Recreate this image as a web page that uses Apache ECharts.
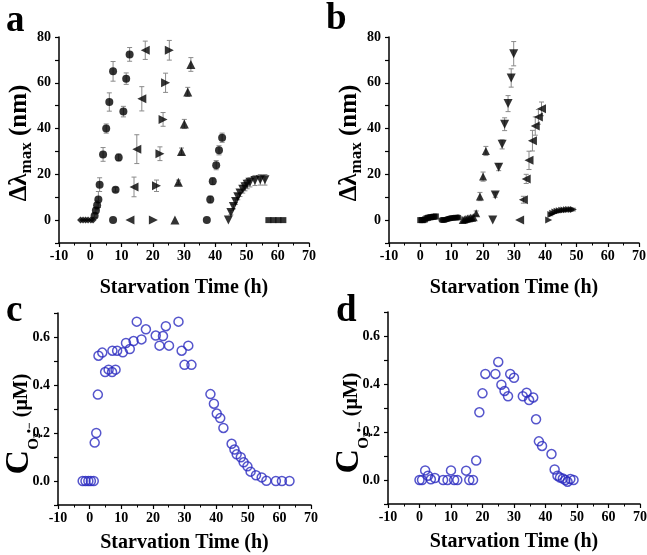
<!DOCTYPE html>
<html>
<head>
<meta charset="utf-8">
<script src="https://cdn.jsdelivr.net/npm/echarts@6/dist/echarts.min.js"></script>
<style>
html,body{margin:0;padding:0;background:#fff;}
#chart{width:647px;height:555px;}
</style>
</head>
<body>
<div id="chart"></div>
<script>
// ---------- Panel a : Δλmax (nm) vs starvation time ----------
const aDiaX = [-3.1, -2.3, -1.5, -0.7, 0.2, 0.9];
const aDiaY = [0, 0, 0, 0, 0, 0];
const aCir1X = [1.4, 1.8, 2.2, 2.6, 3.0, 4.1, 5.1, 6.1, 7.3];
const aCir1Y = [1.9, 4.2, 6.5, 9.0, 15.5, 28.7, 40, 51.6, 65];
const aCir1E = [0.8, 1.2, 2, 3.5, 3, 3, 2, 4, 4.3];
const aCir2X = [7.3, 8.1, 9.1, 10.6, 11.5, 12.6];
const aCir2Y = [0, 13.3, 27.4, 47.4, 61.8, 72.4];
const aCir2E = [0, 1, 1.5, 2.3, 2.5, 3];
const aLeftX = [12.7, 14.0, 14.9, 16.5, 17.6];
const aLeftY = [0, 14.5, 31, 53, 74.2];
const aLeftE = [0, 4.3, 6.3, 5.3, 4];
const aRightX = [20.2, 21.2, 22.3, 23.3, 24.1, 25.3];
const aRightY = [0, 15, 29, 44, 60, 74.2];
const aRightE = [0, 2.5, 3, 3, 4.2, 4.3];
const aUpX = [27.1, 28.2, 29.2, 30.1, 31.2, 32.2];
const aUpY = [0, 16.5, 30, 42, 56, 68];
const aUpE = [0, 1, 1.5, 2, 2, 3];
const aCir3X = [37.3, 38.4, 39.2, 40.3, 41.2, 42.2];
const aCir3Y = [0, 9, 17, 24, 30.5, 36];
const aCir3E = [0, 1.5, 1.5, 2, 2, 2];
const aDownX = [44.2, 45.0, 45.8, 46.5, 47.2, 47.9, 48.8, 49.5, 50.2, 51.1, 52.7, 54.4, 55.9];
const aDownY = [0, 3.3, 5.9, 8.1, 10.2, 11.8, 13.5, 14.6, 15.7, 16.5, 17.3, 17.6, 17.6];
const aDownE = [0, 1, 1, 1.2, 1.3, 1.5, 1.7, 1.8, 2, 2, 2.2, 2.3, 2.3];
const aSqX = [57.0, 58.6, 60.2, 61.8];
const aSqY = [0, 0, 0, 0];

// ---------- Panel b ----------
const bSqX = [0, 0.5, 1, 1.5, 2, 2.5, 3, 3.5, 4, 4.5, 5];
const bSqY = [0, 0, 0, 0.3, 0.8, 1, 1.2, 1.3, 1.4, 1.5, 1.6];
const bCirX = [6.8, 7.3, 7.8, 8.3, 8.8, 9.3, 9.8, 10.3, 10.8, 11.3, 11.8, 12.3];
const bCirY = [0, 0, 0.1, 0.3, 0.5, 0.7, 0.8, 0.9, 1, 1, 1.1, 1.1];
const bUpX = [13.6, 14.1, 14.6, 15.1, 15.6, 16.1, 16.6, 17.1, 17.9, 19.1, 20.1, 21.0];
const bUpY = [0, 0.3, 0.5, 0.7, 0.8, 1, 1, 1.2, 3, 10.3, 19, 30.2];
const bUpE = [0, 0, 0, 0, 0, 0, 0, 0, 1, 1.8, 2, 2];
const bDownX = [23.2, 24.0, 25.1, 26.2, 27.0, 28.1, 29.1, 29.9];
const bDownY = [0, 11, 23.1, 33.1, 41.9, 50.9, 62.1, 72.7];
const bDownE = [0, 1, 1.5, 2, 2.8, 3.5, 4, 5.3];
const bLeftX = [31.8, 33.0, 33.9, 34.8, 35.9, 36.8, 37.8, 38.8];
const bLeftY = [0, 8.9, 18, 26.1, 34.7, 41.1, 45.1, 48.6];
const bLeftE = [0, 1.5, 2, 4, 4.5, 4, 3.2, 3];
const bRightX = [41.1, 41.8, 42.4, 43.1, 43.8, 44.5, 45.3, 46.0, 46.8, 47.5, 48.3, 49.0];
const bRightY = [0, 2.4, 3.0, 3.5, 3.9, 4.1, 4.3, 4.4, 4.5, 4.6, 4.6, 4.6];
const bRightE = [0, 0.5, 0.5, 0.6, 0.6, 0.6, 0.6, 0.6, 0.6, 0.6, 0.6, 0.6];

// ---------- Panel c : C(O2•−) (µM) ----------
const cX = [-2.2, -1.3, -0.4, 0.4, 1.3, 1.6, 2.1, 2.6, 2.8, 4.0, 4.9, 6.0, 7.1, 7.2, 8.2, 8.7, 10.5, 11.5, 12.7, 13.9,
  14.9, 16.4, 17.8, 20.9, 22.1, 23.2, 24.1, 25.1, 28.1, 29.1, 30.0, 31.2, 32.2, 38.2, 39.3, 40.2, 41.3, 42.3,
  44.9, 45.8, 46.5, 47.8, 48.7, 49.9, 50.9, 52.6, 54.4, 55.9, 58.9, 60.8, 63.2];
const cY = [0, 0, 0, 0, 0, 0.16, 0.2, 0.36, 0.522, 0.535, 0.454, 0.464, 0.454, 0.543, 0.464, 0.543, 0.536, 0.575, 0.55, 0.583,
  0.664, 0.59, 0.632, 0.606, 0.564, 0.604, 0.645, 0.564, 0.664, 0.543, 0.484, 0.564, 0.484, 0.362, 0.322, 0.281, 0.262, 0.221,
  0.155, 0.131, 0.111, 0.099, 0.078, 0.061, 0.039, 0.024, 0.015, 0.001, 0, 0, 0];

// ---------- Panel d ----------
const dX = [0, 0.8, 1.8, 2.7, 3.6, 4.9, 7.5, 8.9, 10.0, 11.0, 12.0, 14.8, 15.8, 17.0, 18.0, 19.0, 20.0, 20.9,
  24.1, 25.0, 26.0, 27.0, 28.1, 28.8, 30.0, 32.8, 34.0, 34.8, 36.1, 37.0, 37.9, 38.9, 41.9, 42.9, 43.8, 44.6,
  45.5, 46.3, 47.0, 47.9, 48.9];
const dY = [0, 0, 0.04, 0.018, 0.003, 0.008, 0, 0, 0.04, 0, 0, 0.039, 0, 0, 0.081, 0.282, 0.361, 0.442,
  0.442, 0.492, 0.397, 0.371, 0.349, 0.442, 0.426, 0.349, 0.364, 0.333, 0.344, 0.253, 0.161, 0.142, 0.108, 0.044, 0.018, 0.01,
  0.006, 0, -0.007, 0.004, 0];

// ---------- tick labels / texts ----------
const xTitle = 'Starvation Time (h)';
const panelLetters = ['a', 'b', 'c', 'd'];

const FONT = '"Liberation Serif", "Times New Roman", serif';
const BLUE = '#2a2abf';

const zip2 = (xs, ys) => xs.map((x, i) => [x, ys[i]]);
const zip3 = (xs, ys, es) => xs.map((x, i) => [x, ys[i], es[i]]);

function marks(g, xs, ys, symbol, rotate, size) {
  return {
    type: 'scatter', xAxisIndex: g, yAxisIndex: g, data: zip2(xs, ys),
    symbol: symbol, symbolRotate: rotate, symbolSize: size, z: 5,
    itemStyle: { color: '#000' }, silent: true, animation: false
  };
}
function errs(g, xs, ys, es) {
  return {
    type: 'custom', xAxisIndex: g, yAxisIndex: g, data: zip3(xs, ys, es), z: 3, silent: true, animation: false,
    renderItem: function (params, api) {
      const e = api.value(2);
      if (!e) return null;
      const x = api.value(0), y = api.value(1);
      const hi = api.coord([x, y + e]), lo = api.coord([x, y - e]);
      const w = 2.5, st = { stroke: '#8a8a8a', lineWidth: 1 };
      return {
        type: 'group', children: [
          { type: 'line', shape: { x1: hi[0], y1: hi[1], x2: lo[0], y2: lo[1] }, style: st },
          { type: 'line', shape: { x1: hi[0] - w, y1: hi[1], x2: hi[0] + w, y2: hi[1] }, style: st },
          { type: 'line', shape: { x1: lo[0] - w, y1: lo[1], x2: lo[0] + w, y2: lo[1] }, style: st }
        ]
      };
    }
  };
}
function openCircles(g, xs, ys) {
  return {
    type: 'scatter', xAxisIndex: g, yAxisIndex: g, data: zip2(xs, ys), symbol: 'circle', symbolSize: 9,
    itemStyle: { color: 'rgba(255,255,255,0)', borderColor: BLUE, borderWidth: 1.5 }, silent: true, animation: false
  };
}

const grids = [
  { left: 59, top: 37, width: 250, height: 206, outerBoundsMode: 'none' },
  { left: 389, top: 37, width: 250, height: 206, outerBoundsMode: 'none' },
  { left: 58, top: 313, width: 253, height: 192, outerBoundsMode: 'none' },
  { left: 388, top: 312, width: 252, height: 192, outerBoundsMode: 'none' }
];

const axisLineStyle = { show: true, lineStyle: { color: '#000', width: 1.5 } };
const labelStyle = { color: '#000', fontFamily: FONT, fontWeight: 'bold', fontSize: 14 };

const xAxes = grids.map((g, i) => ({
  type: 'value', gridIndex: i, min: -10, max: 70, interval: 10,
  axisLine: Object.assign({ onZero: false }, axisLineStyle),
  axisTick: { show: true, inside: false, length: 4, lineStyle: { color: '#000', width: 1.2 } },
  minorTick: { show: true, splitNumber: 2, length: 2.5, lineStyle: { color: '#000', width: 1 } },
  splitLine: { show: false },
  axisLabel: Object.assign({ margin: 6 }, labelStyle),
  name: xTitle, nameLocation: 'middle', nameGap: i < 2 ? 35 : 28, nameMoveOverlap: false,
  nameTextStyle: { color: '#000', fontFamily: FONT, fontWeight: 'bold', fontSize: 20 }
}));

const yNameA = '{g|Δλ}{s|max}{g| (nm)}';
const yNameC = '{c|C}{o|O}{t|2}{r|•−}{g| (μM)}';
const yRichA = {
  g: { fontFamily: FONT, fontWeight: 'bold', fontSize: 25, lineHeight: 30, color: '#000', verticalAlign: 'middle' },
  s: { fontFamily: FONT, fontWeight: 'bold', fontSize: 17, lineHeight: 17, color: '#000', verticalAlign: 'bottom' }
};
const yRichC = {
  c: { fontFamily: FONT, fontWeight: 'bold', fontSize: 34, lineHeight: 34, color: '#000', verticalAlign: 'top' },
  o: { fontFamily: FONT, fontWeight: 'bold', fontSize: 15, color: '#000', verticalAlign: 'bottom' },
  t: { fontFamily: FONT, fontWeight: 'bold', fontSize: 10, color: '#000', verticalAlign: 'bottom' },
  r: { fontFamily: FONT, fontWeight: 'bold', fontSize: 12, color: '#000', verticalAlign: 'bottom', padding: [0, 0, 6, 0] },
  g: { fontFamily: FONT, fontWeight: 'bold', fontSize: 20, lineHeight: 40, color: '#000', verticalAlign: 'middle' }
};

const yAxes = grids.map((g, i) => {
  const top = i < 2;
  return {
    type: 'value', gridIndex: i,
    min: top ? -10 : -0.1, max: top ? 80 : 0.7, interval: top ? 10 : 0.1,
    axisLine: Object.assign({ onZero: false }, axisLineStyle),
    axisTick: { show: true, inside: false, length: 4, lineStyle: { color: '#000', width: 1.2 } },
    splitLine: { show: false },
    axisLabel: Object.assign({
      margin: 8,
      formatter: function (v) {
        if (top) return (Math.round(v) % 20 === 0 && v >= 0) ? String(Math.round(v)) : '';
        const k = Math.round(v * 10);
        return (k % 2 === 0 && k >= 0) ? (k / 10).toFixed(1) : '';
      }
    }, labelStyle),
    name: top ? yNameA : yNameC, nameLocation: 'middle', nameRotate: 90, nameGap: top ? 24 : 16,
    nameMoveOverlap: false,
    nameTextStyle: { rich: top ? yRichA : yRichC, padding: top ? [0, 6, 0, 0] : [0, 30, 0, 0] }
  };
});

const series = [
  errs(0, aCir1X, aCir1Y, aCir1E), errs(0, aCir2X, aCir2Y, aCir2E), errs(0, aLeftX, aLeftY, aLeftE),
  errs(0, aRightX, aRightY, aRightE), errs(0, aUpX, aUpY, aUpE), errs(0, aCir3X, aCir3Y, aCir3E),
  errs(0, aDownX, aDownY, aDownE),
  marks(0, aDiaX, aDiaY, 'diamond', 0, 7),
  marks(0, aCir1X, aCir1Y, 'circle', 0, 8),
  marks(0, aCir2X, aCir2Y, 'circle', 0, 8),
  marks(0, aLeftX, aLeftY, 'triangle', 90, 9),
  marks(0, aRightX, aRightY, 'triangle', -90, 9),
  marks(0, aUpX, aUpY, 'triangle', 0, 9),
  marks(0, aCir3X, aCir3Y, 'circle', 0, 8),
  marks(0, aDownX, aDownY, 'triangle', 180, 9),
  marks(0, aSqX, aSqY, 'rect', 0, 6),

  errs(1, bUpX, bUpY, bUpE), errs(1, bDownX, bDownY, bDownE), errs(1, bLeftX, bLeftY, bLeftE),
  errs(1, bRightX, bRightY, bRightE),
  marks(1, bSqX, bSqY, 'rect', 0, 6),
  marks(1, bCirX, bCirY, 'circle', 0, 6),
  marks(1, bUpX, bUpY, 'triangle', 0, 8),
  marks(1, bDownX, bDownY, 'triangle', 180, 9),
  marks(1, bLeftX, bLeftY, 'triangle', 90, 9),
  marks(1, bRightX, bRightY, 'triangle', -90, 7),

  openCircles(2, cX, cY),
  openCircles(3, dX, dY)
];

const letterPos = [[6, 3], [326, 1], [6, 293], [336, 293]];
const graphic = panelLetters.map((t, i) => ({
  type: 'text', left: letterPos[i][0], top: letterPos[i][1],
  style: { text: t, font: 'bold 37px ' + FONT, fill: '#000' }
}));

const chart = echarts.init(document.getElementById('chart'), null, { renderer: 'canvas' });
chart.setOption({
  animation: false,
  backgroundColor: '#fff',
  grid: grids,
  xAxis: xAxes,
  yAxis: yAxes,
  series: series,
  graphic: graphic
});
</script>
</body>
</html>
